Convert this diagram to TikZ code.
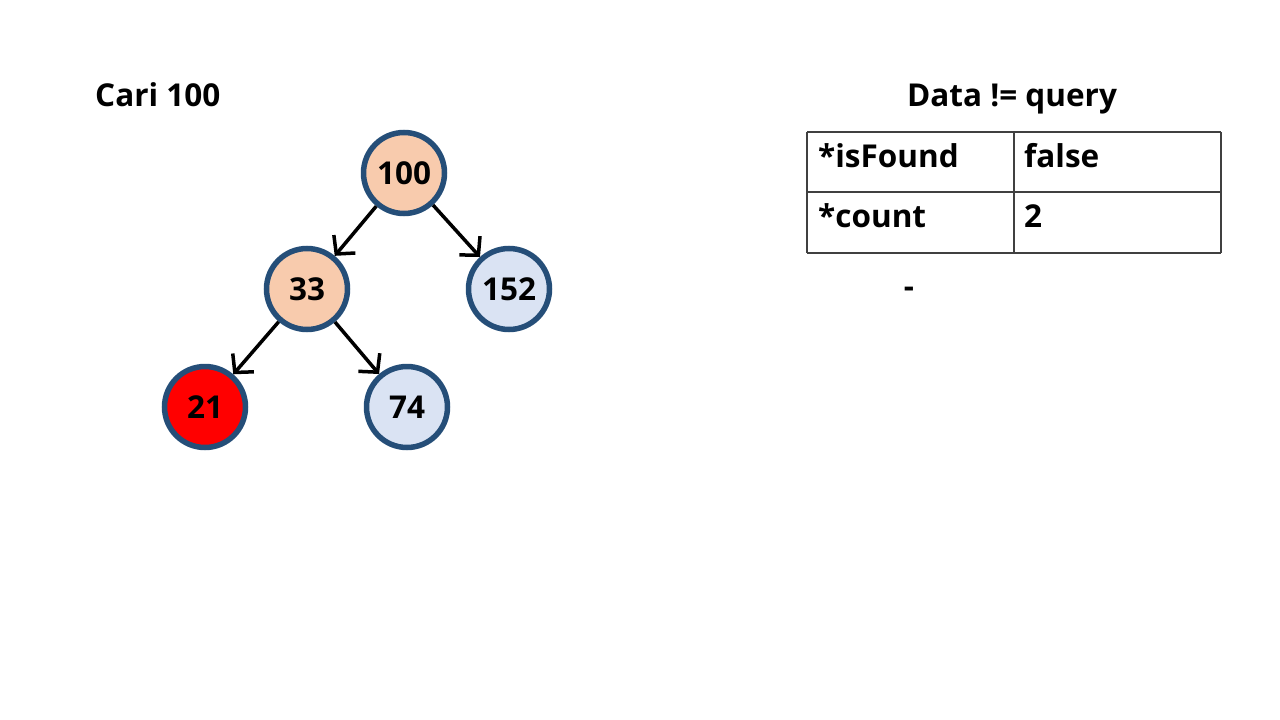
\documentclass[tikz,border=0pt]{standalone}
\usepackage{fontspec}
\setmainfont{Open Sans}
\usetikzlibrary{arrows.meta}
\definecolor{nodeborder}{HTML}{254E78}
\definecolor{peach}{HTML}{F8CBAD}
\definecolor{paleblue}{HTML}{DAE3F3}
\begin{document}
\begin{tikzpicture}[x=1pt, y=-1pt,
  every node/.style={font=\fontsize{31.5}{36}\selectfont\bfseries},
  bstnode/.style={circle, draw=nodeborder, line width=5.5pt, minimum size=81pt, inner sep=0pt},
  edge/.style={line width=3.5pt, -{Straight Barb[length=13pt, width=28pt, line width=3.5pt]}},
  cell/.style={anchor=base west, inner sep=0pt}]
\useasboundingbox (0,0) rectangle (1280,720);
\node[anchor=base west, inner sep=0pt] (title) at (95,106) {Cari 100}; % left title
\node[bstnode, fill=peach] (n100) at (404,173) {100}; % root
\node[bstnode, fill=peach] (n33) at (307,289) {33};
\node[bstnode, fill=paleblue] (n152) at (509,289) {152};
\node[bstnode, fill=red] (n21) at (205,407) {21};
\node[bstnode, fill=paleblue] (n74) at (407,407) {74};
\draw[edge] (n100) -- (n33); % edges
\draw[edge] (n100) -- (n152);
\draw[edge] (n33) -- (n21);
\draw[edge] (n33) -- (n74);
\node[anchor=base, inner sep=0pt] (cond) at (1012,106) {Data != query}; % right title
\draw[line width=1.2pt, black!75] (807,132) -- (1221,132) (807,192) -- (1221,192) (807,253) -- (1221,253)
  (807,132) -- (807,253) (1014,132) -- (1014,253) (1221,132) -- (1221,253); % table
\node[cell] (found) at (818,167) {*isFound};
\node[cell] (foundval) at (1024,167) {false};
\node[cell] (count) at (818,227) {*count};
\node[cell] (countval) at (1024,227) {2};
\node[anchor=base, inner sep=0pt] (dash) at (909,297) {-}; % dash
\end{tikzpicture}
\end{document}
